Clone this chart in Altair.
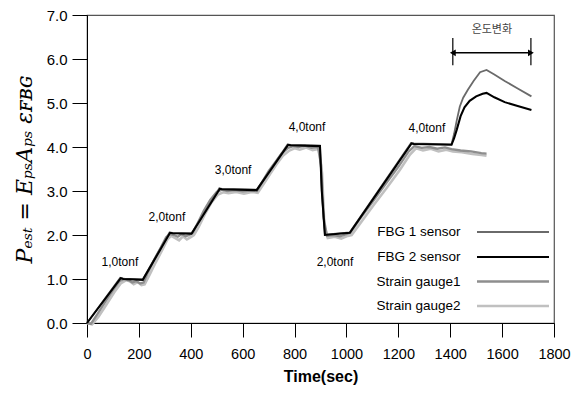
import altair as alt
import pandas as pd

# ---------------- data ----------------
series_names = ["FBG 1 sensor", "FBG 2 sensor", "Strain gauge1", "Strain gauge2"]

fbg2_t = [0, 130, 140, 215, 320, 330, 403, 512, 520, 654, 775, 785, 898, 905, 917, 1013,
          1251, 1260, 1405, 1415, 1425, 1440, 1455, 1475, 1500, 1525, 1540, 1570, 1610, 1660, 1713]
fbg2_y = [0, 1.02, 1.0, 0.98, 2.05, 2.04, 2.03, 3.05, 3.04, 3.02, 4.05, 4.04, 4.02, 3.0, 2.0, 2.05,
          4.08, 4.07, 4.05, 4.2, 4.39, 4.7, 4.9, 5.05, 5.15, 5.21, 5.23, 5.13, 5.02, 4.93, 4.84]

fbg1_t = [0, 128, 140, 215, 318, 330, 403, 510, 520, 654, 773, 785, 898, 905, 917, 1013,
          1249, 1260, 1405, 1415, 1425, 1437, 1450, 1468, 1490, 1515, 1540, 1570, 1610, 1660, 1713]
fbg1_y = [0, 1.03, 1.01, 0.99, 2.06, 2.05, 2.04, 3.06, 3.05, 3.03, 4.06, 4.05, 4.03, 3.0, 2.01, 2.06,
          4.09, 4.08, 4.06, 4.3, 4.6, 4.92, 5.12, 5.3, 5.5, 5.7, 5.75, 5.65, 5.5, 5.33, 5.15]

sg1_t = [0, 15, 40, 70, 100, 125, 145, 160, 175, 190, 205, 218, 235, 260, 285, 305, 320, 335, 350,
         365, 380, 395, 408, 425, 450, 475, 500, 520, 540, 570, 600, 630, 655, 675, 700, 725, 750,
         775, 795, 815, 840, 865, 890, 902, 912, 925, 950, 975, 1000, 1015, 1050, 1100, 1150, 1200,
         1240, 1262, 1290, 1320, 1350, 1380, 1405, 1440, 1480, 1520, 1540]
sg1_y = [0.0, -0.02, 0.2, 0.48, 0.75, 0.95, 1.0, 0.97, 0.92, 0.95, 0.9, 0.92, 1.15, 1.45, 1.72, 1.95,
         2.02, 2.0, 1.96, 2.02, 1.97, 2.0, 2.05, 2.25, 2.55, 2.8, 2.98, 3.03, 3.0, 3.02, 2.99, 3.01,
         3.0, 3.2, 3.45, 3.65, 3.85, 3.98, 4.02, 4.0, 4.03, 3.98, 4.0, 3.6, 2.4, 1.98, 2.0, 1.97, 2.02,
         2.05, 2.35, 2.75, 3.15, 3.55, 3.9, 4.02, 3.98, 4.0, 3.96, 3.99, 3.95, 3.92, 3.9, 3.86, 3.85]

sg2_t = [0, 20, 45, 75, 105, 130, 150, 165, 180, 195, 210, 222, 240, 265, 290, 310, 325, 340, 355,
         370, 385, 400, 412, 430, 455, 480, 505, 525, 545, 575, 605, 635, 658, 680, 705, 730, 755,
         780, 800, 820, 845, 870, 895, 906, 915, 928, 955, 980, 1005, 1020, 1055, 1105, 1155, 1205,
         1245, 1268, 1295, 1325, 1355, 1385, 1410, 1445, 1485, 1520, 1540]
sg2_y = [0.0, -0.03, 0.15, 0.42, 0.7, 0.9, 0.97, 0.95, 0.88, 0.93, 0.86, 0.88, 1.08, 1.38, 1.66, 1.9,
         1.98, 1.93, 1.88, 1.97, 1.9, 1.95, 2.0, 2.18, 2.48, 2.74, 2.92, 2.97, 2.95, 2.98, 2.94, 2.98,
         2.96, 3.15, 3.38, 3.6, 3.8, 3.92, 3.97, 3.94, 3.99, 3.93, 3.96, 3.4, 2.2, 1.93, 1.96, 1.92, 1.98,
         2.0, 2.28, 2.68, 3.07, 3.47, 3.83, 3.97, 3.92, 3.96, 3.9, 3.94, 3.9, 3.88, 3.84, 3.82, 3.8]

ann_x = [127, 308, 563, 848, 956, 1310]
ann_y = [1.39, 2.41, 3.48, 4.45, 1.39, 4.43]
ann_text = ["1,0tonf", "2,0tonf", "3,0tonf", "4,0tonf", "2,0tonf", "4,0tonf"]

temp_label = "온도변화"
temp_x = [1410, 1711]
temp_text_y = 6.66
temp_arrow_y = 6.14
temp_bar_y = [5.86, 6.48]

x_ticks = list(range(0, 1801, 100))
y_ticks = [i * 0.5 for i in range(15)]

# ---------------- tables ----------------
rows = []
for name, ts, ys in [("Strain gauge2", sg2_t, sg2_y), ("Strain gauge1", sg1_t, sg1_y),
                     ("FBG 1 sensor", fbg1_t, fbg1_y), ("FBG 2 sensor", fbg2_t, fbg2_y)]:
    for i, (t, y) in enumerate(zip(ts, ys)):
        rows.append({"series": name, "t": t, "y": y, "i": i})
df = pd.DataFrame(rows)

df_ann = pd.DataFrame({"x": ann_x, "y": ann_y, "text": ann_text})
df_arrow = pd.DataFrame({"x": [temp_x[0]], "x2": [temp_x[1]], "y": [temp_arrow_y]})
df_bars = pd.DataFrame({"x": temp_x, "y": [temp_bar_y[0]] * 2, "y2": [temp_bar_y[1]] * 2})
df_heads = pd.DataFrame({"x": temp_x, "y": [temp_arrow_y] * 2,
                         "shape": ["triangle-left", "triangle-right"]})
df_temp = pd.DataFrame({"x": [(temp_x[0] + temp_x[1]) / 2], "y": [temp_text_y], "text": [temp_label]})

xscale = alt.Scale(domain=[0, 1800], nice=False, zero=False)
yscale = alt.Scale(domain=[0, 7], nice=False)

x_axis = alt.Axis(
    values=x_ticks, format="d",
    labelExpr="datum.value % 200 == 0 ? datum.label : ''",
    tickSize={"condition": {"test": "datum.value % 200 == 0", "value": 14}, "value": 5},
    tickColor="black", domainColor="black", grid=False,
    labelFont="Liberation Sans", labelFontSize=14.5, labelColor="black", labelPadding=10,
    labelFlush=False,
    title="Time(sec)", titleFont="Liberation Sans", titleFontSize=16, titleFontWeight="bold",
    titleColor="black", titlePadding=8,
)
y_axis = alt.Axis(
    values=y_ticks, format=".1f",
    labelExpr="datum.value % 1 == 0 ? datum.label : ''",
    tickSize={"condition": {"test": "datum.value % 1 == 0", "value": 15}, "value": 7},
    tickColor="black", domainColor="black", grid=False,
    labelFont="Liberation Sans", labelFontSize=15, labelColor="black", labelPadding=5,
    labelFlush=False,
    title="Pₑₛₜ = EₚₛAₚₛ εꜰʙɢ", titleFont="DejaVu Serif", titleFontStyle="italic",
    titleFontWeight="normal", titleFontSize=22, titleColor="black", titlePadding=10,
)

legend_opts = dict(
    title=None, orient="none", legendX=415.5, legendY=207, padding=0,
    symbolType="M-4,0H4", symbolSize=324, labelAlign="right",
    labelOffset=alt.ExprRef(expr="-63"), rowPadding=7.5, labelFont="Liberation Sans",
    labelFontSize=13.5, labelColor="black", labelLimit=200,
)

lines = alt.Chart(df).mark_line().encode(
    x=alt.X("t:Q", scale=xscale, axis=x_axis),
    y=alt.Y("y:Q", scale=yscale, axis=y_axis),
    color=alt.Color("series:N",
                    scale=alt.Scale(domain=series_names,
                                    range=["#6a6a6a", "#000000", "#8e8e8e", "#c0c0c0"]),
                    legend=alt.Legend(**legend_opts)),
    strokeWidth=alt.StrokeWidth("series:N",
                                scale=alt.Scale(domain=series_names, range=[1.8, 2.6, 3.2, 5.5]),
                                legend=alt.Legend(**legend_opts)),
    order="i:Q",
)

ann = alt.Chart(df_ann).mark_text(font="Liberation Sans", fontSize=12, color="black").encode(
    x=alt.X("x:Q", scale=xscale), y=alt.Y("y:Q", scale=yscale), text="text:N")

arrow = alt.Chart(df_arrow).mark_rule(color="black", strokeWidth=1.5).encode(
    x=alt.X("x:Q", scale=xscale), x2="x2:Q", y=alt.Y("y:Q", scale=yscale))
bars = alt.Chart(df_bars).mark_rule(color="black", strokeWidth=1.2).encode(
    x=alt.X("x:Q", scale=xscale), y=alt.Y("y:Q", scale=yscale), y2="y2:Q")
heads = alt.Chart(df_heads).mark_point(filled=True, color="black", size=45, opacity=1).encode(
    x=alt.X("x:Q", scale=xscale), y=alt.Y("y:Q", scale=yscale),
    shape=alt.Shape("shape:N", scale=None, legend=None))
temp = alt.Chart(df_temp).mark_text(font="Noto Sans CJK KR", fontSize=11, color="#444").encode(
    x=alt.X("x:Q", scale=xscale), y=alt.Y("y:Q", scale=yscale), text="text:N")

chart = alt.layer(lines, ann, arrow, bars, heads, temp).properties(
    width=467, height=308,
    autosize=alt.AutoSizeParams(type="none"),
    padding={"left": 87, "top": 15, "right": 17, "bottom": 71},
    background="white",
).configure_view(stroke="#555", strokeWidth=1.2)

chart.save("out.html", embed_options={"renderer": "svg", "actions": False})
